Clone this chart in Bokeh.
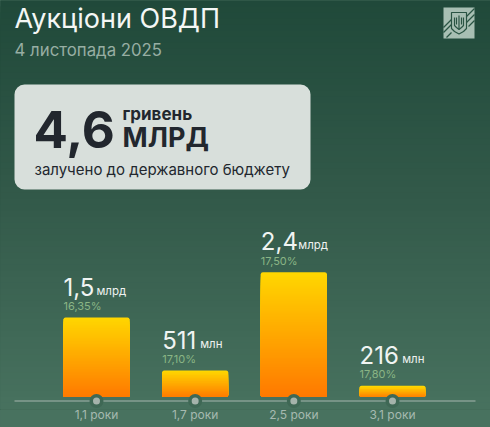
from bokeh.plotting import figure
from bokeh.models import Range1d, FixedTicker, LinearAxis
from bokeh.core.properties import value
from bokeh.embed import file_html
from bokeh.resources import INLINE

# ---- data ----
categories = ["1,1 роки", "1,7 роки", "2,5 роки", "3,1 роки"]
amounts_bn = [1.53, 0.511, 2.4, 0.216]
amount_labels = ["1,5", "511", "2,4", "216"]
unit_labels = ["млрд", "млн", "млрд", "млн"]
yield_labels = ["16,35%", "17,10%", "17,50%", "17,80%"]
title_text = "Аукціони ОВДП"
date_text = "4 листопада 2025"
card_big = "4,6"
card_unit = "гривень"
card_scale = "МЛРД"
card_note = "залучено до державного бюджету"

# ---- style / layout ----
FONT = value("Inter")
W, H = 490, 427
CENTER0_X = 96
PX_PER_UNIT_X = 98.67
PX_PER_BN = 52.0
BASE_Y = 396.5
LINE_Y = 400.5
FRAME_BOTTOM = 409
BASELINE_SHIFT = 0.33  # the text glyph sits this share of its size below the anchor
idx = list(range(len(categories)))
frame_value = -(FRAME_BOTTOM - BASE_Y) / PX_PER_BN
line_value = -(LINE_Y - BASE_Y) / PX_PER_BN

p = figure(width=W, height=H, output_backend="svg", toolbar_location=None,
           min_border_left=0, min_border_right=0, min_border_top=0, min_border_bottom=H - FRAME_BOTTOM,
           x_axis_location=None, y_axis_location=None,
           x_range=Range1d(-CENTER0_X / PX_PER_UNIT_X, (W - CENTER0_X) / PX_PER_UNIT_X),
           y_range=Range1d(frame_value, BASE_Y / PX_PER_BN))
p.outline_line_color = None
p.background_fill_color = "#20493a"
p.border_fill_color = "#48725f"
p.styles = {"background-color": "#48725f"}
p.grid.visible = False
# page-pixel coordinates for the decoration
p.extra_x_ranges["px"] = Range1d(0, W)
p.extra_y_ranges["px"] = Range1d(FRAME_BOTTOM, 0)
PX = dict(x_range_name="px", y_range_name="px")

axis = LinearAxis(ticker=FixedTicker(ticks=idx),
                  major_label_overrides={i: c for i, c in zip(idx, categories)})
axis.axis_line_color = None
axis.major_tick_line_color = None
axis.minor_tick_line_color = None
axis.major_tick_in = 0
axis.major_tick_out = 0
axis.minor_tick_in = 0
axis.minor_tick_out = 0
axis.major_label_text_font = "Inter"
axis.major_label_text_font_size = "12px"
axis.major_label_text_color = "#a6bab0"
axis.major_label_standoff = -3
p.add_layout(axis, "below")


def mix_hex(c0, c1, f):
    return "#%02x%02x%02x" % tuple(round(a + (b - a) * f) for a, b in zip(c0, c1))


# background gradient: bands, tallest first
BG_STOPS = [(0, (0x20, 0x49, 0x3a)), (200, (0x33, 0x5a, 0x4a)), (409, (0x48, 0x72, 0x5f))]


def bg_color(y):
    (y0, c0), (y1, c1) = (BG_STOPS[0], BG_STOPS[1]) if y < 200 else (BG_STOPS[1], BG_STOPS[2])
    return mix_hex(c0, c1, (y - y0) / (y1 - y0))


bands = list(range(0, FRAME_BOTTOM, 6))
p.quad(left=[-2] * len(bands), right=[W + 2] * len(bands), top=bands, bottom=[FRAME_BOTTOM] * len(bands),
       fill_color=[bg_color(y) for y in bands], line_color=None, **PX)


def txt(x, y, s, size, color, style="normal", font="Inter", align="left"):
    p.text([x], [y - BASELINE_SHIFT * size], text=[s], text_font=value(font), text_font_size=f"{size}px",
           text_color=color, text_font_style=style, text_align=align,
           text_baseline="alphabetic", **PX)


# title
txt(14, 27, title_text, 27, "#f4f7f5", "normal")
txt(14, 55, date_text, 16.8, "#97aea3")

# card
p.quad(left=[14], right=[310], top=[84], bottom=[189], fill_color="#d8dfdb", line_color=None,
       border_radius=10, **PX)
txt(33, 146, card_big, 51, "#22272e", "bold")
txt(122, 119, card_unit, 17, "#22272e", "bold")
txt(122, 146, card_scale, 27, "#22272e", "bold")
txt(34, 174, card_note, 15, "#22272e")

# emblem
p.quad(left=[443], right=[474], top=[7], bottom=[38], fill_color="#a8bfb3", line_color=None, **PX)
p.multi_line(xs=[[464, 474], [466, 474], [468, 474], [443, 451], [443, 451], [446, 451]],
             ys=[[18, 8], [22, 14], [26, 20], [27, 19], [32, 24], [37, 32]],
             line_color="#2a5443", line_width=1.2, **PX)
p.patch(x=[451, 466, 466, 463, 458.5, 454, 451], y=[12, 12, 28, 31, 33.5, 31, 28],
        fill_color="#a8bfb3", line_color="#2a5443", line_width=1.2, **PX)
p.multi_line(xs=[[458.5, 458.5], [454, 454, 456, 458.5], [463, 463, 461, 458.5], [456, 456], [461, 461]],
             ys=[[15, 29], [17, 25, 27, 29], [17, 25, 27, 29], [17, 24], [17, 24]],
             line_color="#2a5443", line_width=1.2, **PX)

# axis line
p.segment(x0=[14], x1=[475], y0=[LINE_Y], y1=[LINE_Y], line_color="#a6b5ad", line_width=1.2, **PX)

# bars: gradient from stacked rects, tallest first
BAR_W = 66 / PX_PER_UNIT_X
STEP = 0.03
BAR_TOP, BAR_BOT = (255, 214, 0), (255, 120, 0)
p.quad(left=[i - BAR_W / 2 for i in idx], right=[i + BAR_W / 2 for i in idx], bottom=[0] * 4, top=amounts_bn,
       fill_color=mix_hex(BAR_TOP, BAR_BOT, 0), line_color=None, border_radius=2)
for i, v in zip(idx, amounts_bn):
    n = max(int(v / STEP), 4)
    tops = [v * (1 - k / n) for k in range(1, n)]
    p.quad(left=[i - BAR_W / 2] * len(tops), right=[i + BAR_W / 2] * len(tops), bottom=[0] * len(tops), top=tops,
           fill_color=[mix_hex(BAR_TOP, BAR_BOT, k / n) for k in range(1, n)], line_color=None,
           border_radius=(0, 0, 2, 2))

# dots on the axis line
dot_y = [line_value] * 4
p.scatter(idx, dot_y, size=14, fill_color="#3f6855", line_color=None)
p.scatter(idx, dot_y, size=7, fill_color="#a5b3ab", line_color=None)

# bar labels
lefts = [i - BAR_W / 2 for i in idx]
p.text(lefts, amounts_bn, text=amount_labels, text_font=FONT, text_font_size="24px", text_color="#f0f4f2",
       text_baseline="alphabetic", y_offset=-23 - BASELINE_SHIFT * 24)
unit_offsets = [33, 38, 37.5, 42.7]
p.text(lefts, amounts_bn, text=unit_labels, text_font=FONT, text_font_size="11.5px", text_color="#eef2f0",
       text_baseline="alphabetic", x_offset=unit_offsets, y_offset=-23 - BASELINE_SHIFT * 11.5)
p.text(lefts, amounts_bn, text=yield_labels, text_font=FONT, text_font_size="11px", text_color="#8ab585",
       text_baseline="alphabetic", y_offset=-8 - BASELINE_SHIFT * 11)

open("out.html", "w").write(file_html(p, INLINE))
